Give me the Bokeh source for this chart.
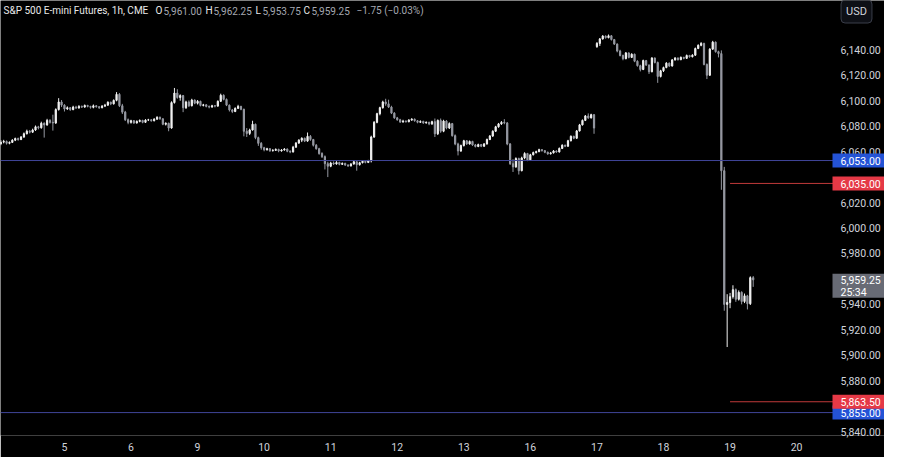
from bokeh.plotting import figure
from bokeh.models import Range1d, FixedTicker, Span, Label, ColumnDataSource, NumeralTickFormatter
from bokeh.core.properties import value
from bokeh.embed import file_html
from bokeh.resources import INLINE

# ---------------- data ----------------
session_days = ["4", "5", "6", "9", "10", "11", "12", "13", "16", "17", "18", "19", "20"]
first_session_bars = 22      # bars of Dec 4 visible
bars_per_session = 23        # hourly bars per CME session

opens = [
    # Dec 4
    6066.0, 6067.5, 6068.0, 6066.5, 6067.25, 6069.0, 6070.25, 6069.5, 6071.5, 6074.0, 6076.0, 6075.25, 6077.0, 6079.5, 6078.75, 6082.25, 6081.0, 6084.5, 6083.0, 6082.5, 6093.0, 6099.0,
    # Dec 5
    6096.5, 6093.5, 6094.5, 6093.0, 6095.0, 6094.25, 6095.5, 6095.0, 6096.25, 6095.5, 6094.75, 6096.0, 6095.25, 6094.5, 6095.75, 6096.5, 6098.75, 6097.5, 6100.25, 6105.0, 6096.0, 6091.0, 6085.0,
    # Dec 6
    6083.0, 6084.25, 6082.5, 6083.75, 6084.5, 6083.0, 6084.75, 6085.0, 6084.25, 6085.5, 6087.0, 6085.75, 6081.5, 6082.25, 6078.5, 6098.5, 6106.0, 6102.5, 6104.0, 6094.5, 6099.0, 6096.0, 6100.5,
    # Dec 9
    6098.0, 6099.5, 6096.25, 6096.75, 6095.5, 6095.0, 6096.0, 6095.75, 6099.5, 6104.25, 6101.0, 6096.5, 6092.75, 6091.5, 6094.0, 6095.5, 6093.25, 6076.0, 6074.25, 6077.0, 6081.5, 6071.0, 6066.5,
    # Dec 10
    6063.0, 6061.5, 6062.25, 6060.75, 6061.0, 6061.75, 6060.5, 6061.25, 6062.0, 6060.25, 6059.75, 6063.5, 6066.75, 6069.0, 6070.5, 6068.25, 6072.0, 6069.5, 6065.0, 6062.25, 6058.5, 6056.0, 6050.5,
    # Dec 11
    6048.5, 6051.0, 6050.25, 6051.5, 6050.0, 6050.75, 6049.5, 6048.75, 6050.25, 6052.0, 6049.75, 6051.25, 6052.5, 6051.5, 6052.75, 6071.5, 6083.0, 6089.75, 6094.5, 6099.0, 6097.5, 6095.0, 6090.25,
    # Dec 12
    6086.5, 6085.0, 6083.25, 6084.0, 6083.5, 6084.75, 6085.5, 6084.25, 6083.0, 6083.75, 6082.5, 6083.0, 6081.75, 6083.5, 6074.0, 6084.5, 6076.0, 6084.0, 6078.5, 6082.0, 6072.5, 6066.0, 6060.5,
    # Dec 13
    6064.75, 6068.5, 6066.0, 6068.0, 6065.25, 6064.0, 6065.5, 6064.25, 6066.0, 6069.5, 6072.25, 6076.0, 6079.5, 6081.75, 6083.0, 6082.5, 6066.0, 6050.5, 6048.0, 6054.5, 6045.0, 6055.0, 6058.5,
    # Dec 16
    6053.5, 6057.5, 6059.25, 6060.0, 6061.5, 6060.75, 6059.5, 6058.25, 6059.0, 6060.5, 6059.75, 6062.5, 6065.0, 6064.25, 6068.5, 6072.0, 6070.5, 6076.25, 6081.0, 6084.5, 6088.0, 6086.5, 6089.0,
    # Dec 17
    6142.5, 6145.0, 6148.5, 6150.75, 6149.5, 6151.0, 6148.0, 6144.5, 6139.0, 6135.5, 6133.0, 6137.5, 6134.0, 6136.5, 6131.0, 6127.5, 6124.5, 6131.5, 6128.0, 6122.75, 6133.5, 6130.0, 6119.0,
    # Dec 18
    6123.5, 6126.0, 6129.5, 6127.25, 6132.0, 6133.5, 6132.25, 6134.0, 6133.25, 6135.5, 6134.5, 6135.75, 6141.0, 6143.5, 6145.0, 6128.5, 6120.0, 6140.5, 6146.0, 6138.5, 6137.0, 6045.0, 5940.0,
    # Dec 19
    5941.5, 5946.0, 5951.5, 5944.0, 5949.5, 5942.25, 5946.75, 5940.5, 5961.0,
]
highs = [
    6069.0, 6069.25, 6068.75, 6068.0, 6069.75, 6071.0, 6071.0, 6072.25, 6075.0, 6077.25, 6077.0, 6078.0, 6080.5, 6080.25, 6083.5, 6083.0, 6085.75, 6085.5, 6089.0, 6094.0, 6102.0, 6100.5,
    6097.25, 6095.5, 6095.0, 6096.0, 6096.0, 6096.5, 6096.25, 6097.0, 6096.75, 6096.0, 6097.0, 6096.5, 6095.75, 6096.5, 6097.5, 6099.5, 6099.25, 6101.0, 6106.75, 6106.0, 6097.5, 6092.0, 6086.0,
    6085.0, 6084.75, 6084.5, 6085.25, 6085.0, 6085.5, 6085.75, 6085.5, 6086.25, 6087.75, 6087.5, 6086.25, 6083.0, 6082.75, 6099.5, 6110.0, 6109.0, 6105.0, 6104.5, 6100.0, 6100.25, 6101.5, 6101.0,
    6100.5, 6100.0, 6097.5, 6097.25, 6096.25, 6096.75, 6096.5, 6100.25, 6105.5, 6105.0, 6101.75, 6097.0, 6093.5, 6094.75, 6096.75, 6096.0, 6093.75, 6078.5, 6078.0, 6084.25, 6082.0, 6071.75, 6067.5,
    6063.75, 6063.0, 6062.75, 6062.0, 6062.5, 6062.25, 6062.0, 6062.75, 6062.5, 6061.0, 6064.5, 6067.5, 6069.75, 6071.25, 6071.0, 6075.0, 6073.0, 6070.0, 6066.0, 6063.0, 6059.5, 6057.0, 6052.0,
    6052.0, 6052.25, 6052.5, 6052.0, 6051.5, 6051.25, 6050.0, 6051.0, 6053.0, 6052.5, 6052.0, 6053.25, 6053.0, 6053.5, 6072.5, 6084.0, 6090.5, 6095.25, 6100.0, 6101.5, 6100.75, 6096.0, 6091.0,
    6087.25, 6085.75, 6085.0, 6084.5, 6085.5, 6086.25, 6086.0, 6084.75, 6084.5, 6084.25, 6083.75, 6083.5, 6084.25, 6086.0, 6085.25, 6086.0, 6085.0, 6084.75, 6083.0, 6082.5, 6073.5, 6067.0, 6065.5,
    6069.25, 6069.0, 6068.75, 6068.5, 6066.0, 6066.25, 6066.0, 6066.75, 6070.25, 6073.0, 6076.75, 6080.25, 6082.5, 6084.0, 6085.5, 6083.25, 6066.75, 6054.0, 6055.5, 6055.25, 6056.0, 6059.5, 6059.0,
    6058.25, 6060.0, 6060.75, 6062.25, 6062.0, 6061.25, 6060.0, 6059.75, 6061.25, 6061.0, 6063.25, 6065.75, 6065.5, 6069.25, 6072.75, 6072.5, 6077.0, 6081.75, 6085.25, 6088.75, 6090.0, 6089.75, 6089.5,
    6146.0, 6149.25, 6151.5, 6151.25, 6152.0, 6151.5, 6148.5, 6145.0, 6140.0, 6136.25, 6138.25, 6138.0, 6137.25, 6137.0, 6131.75, 6128.25, 6132.25, 6132.0, 6128.5, 6134.25, 6134.0, 6130.75, 6124.25,
    6126.75, 6130.25, 6130.0, 6132.75, 6134.25, 6134.0, 6134.75, 6134.5, 6136.25, 6136.0, 6136.5, 6141.75, 6144.25, 6146.0, 6145.5, 6129.25, 6141.25, 6147.0, 6146.5, 6139.25, 6139.5, 6048.0, 5948.0,
    5949.0, 5955.0, 5952.5, 5951.0, 5950.25, 5948.5, 5947.5, 5962.0, 5962.25,
]
lows = [
    6065.0, 6066.5, 6065.5, 6065.75, 6066.75, 6068.25, 6068.5, 6069.0, 6070.75, 6073.5, 6074.25, 6074.75, 6076.25, 6077.5, 6078.0, 6071.0, 6080.25, 6082.0, 6076.5, 6081.75, 6092.25, 6095.0,
    6091.5, 6092.75, 6092.0, 6092.5, 6093.5, 6093.75, 6094.25, 6094.5, 6094.75, 6093.75, 6094.0, 6094.5, 6093.5, 6094.0, 6095.0, 6096.0, 6096.5, 6097.0, 6099.5, 6095.0, 6089.5, 6084.0, 6081.5,
    6082.0, 6081.75, 6082.0, 6083.0, 6082.25, 6082.5, 6084.0, 6083.5, 6083.75, 6085.0, 6085.0, 6080.75, 6080.5, 6076.0, 6078.0, 6097.75, 6101.5, 6100.0, 6091.0, 6093.5, 6095.0, 6095.5, 6097.25,
    6097.0, 6095.5, 6095.5, 6094.75, 6094.0, 6094.5, 6094.75, 6095.25, 6099.0, 6100.25, 6095.75, 6091.5, 6090.25, 6091.0, 6093.5, 6092.5, 6072.0, 6071.5, 6073.0, 6076.5, 6069.75, 6064.5, 6061.5,
    6060.25, 6060.75, 6059.75, 6060.0, 6060.5, 6059.5, 6060.0, 6060.75, 6059.5, 6058.75, 6059.25, 6063.0, 6066.0, 6067.5, 6067.5, 6067.75, 6068.5, 6064.0, 6061.5, 6057.5, 6055.0, 6046.0, 6040.0,
    6047.75, 6049.5, 6049.75, 6049.25, 6049.5, 6048.75, 6048.0, 6048.25, 6049.75, 6045.0, 6049.0, 6050.75, 6050.75, 6051.0, 6051.5, 6070.75, 6082.25, 6088.5, 6093.75, 6096.0, 6094.25, 6089.5, 6085.75,
    6084.25, 6082.5, 6082.75, 6082.75, 6083.0, 6084.25, 6083.5, 6082.25, 6082.5, 6081.75, 6082.0, 6080.75, 6081.0, 6071.5, 6073.0, 6074.75, 6075.25, 6077.5, 6077.75, 6071.75, 6065.0, 6057.0, 6059.75,
    6064.0, 6065.25, 6065.5, 6064.5, 6063.25, 6063.5, 6063.5, 6063.75, 6065.5, 6069.0, 6071.5, 6075.5, 6078.75, 6081.0, 6081.5, 6065.0, 6049.5, 6044.0, 6047.25, 6042.0, 6044.5, 6054.0, 6052.5,
    6053.0, 6057.0, 6058.5, 6059.5, 6060.0, 6058.75, 6057.5, 6057.75, 6058.5, 6059.0, 6059.25, 6062.0, 6063.5, 6063.75, 6068.0, 6069.75, 6070.0, 6075.75, 6080.5, 6084.0, 6085.75, 6086.0, 6074.0,
    6141.5, 6143.0, 6148.0, 6148.75, 6149.0, 6147.25, 6143.75, 6138.0, 6134.75, 6131.75, 6132.5, 6133.25, 6133.5, 6130.25, 6126.75, 6123.0, 6124.0, 6127.25, 6121.0, 6122.25, 6129.25, 6114.0, 6118.25,
    6122.5, 6125.5, 6126.5, 6126.75, 6131.5, 6131.5, 6131.75, 6132.5, 6132.75, 6133.75, 6134.0, 6135.25, 6140.5, 6142.75, 6127.75, 6117.0, 6119.5, 6140.0, 6137.75, 6134.0, 6030.0, 5935.0, 5906.5,
    5937.0, 5944.5, 5942.0, 5943.0, 5940.0, 5941.0, 5936.0, 5939.5, 5953.75,
]
closes = [
    6067.5, 6068.0, 6066.5, 6067.25, 6069.0, 6070.25, 6069.5, 6071.5, 6074.0, 6076.0, 6075.25, 6077.0, 6079.5, 6078.75, 6082.25, 6081.0, 6084.5, 6083.0, 6082.5, 6093.0, 6099.0, 6096.5,
    6093.5, 6094.5, 6093.0, 6095.0, 6094.25, 6095.5, 6095.0, 6096.25, 6095.5, 6094.75, 6096.0, 6095.25, 6094.5, 6095.75, 6096.5, 6098.75, 6097.5, 6100.25, 6105.0, 6096.0, 6091.0, 6085.0, 6083.0,
    6084.25, 6082.5, 6083.75, 6084.5, 6083.0, 6084.75, 6085.0, 6084.25, 6085.5, 6087.0, 6085.75, 6081.5, 6082.25, 6078.5, 6098.5, 6106.0, 6102.5, 6104.0, 6094.5, 6099.0, 6096.0, 6100.5, 6098.0,
    6099.5, 6096.25, 6096.75, 6095.5, 6095.0, 6096.0, 6095.75, 6099.5, 6104.25, 6101.0, 6096.5, 6092.75, 6091.5, 6094.0, 6095.5, 6093.25, 6076.0, 6074.25, 6077.0, 6081.5, 6071.0, 6066.5, 6063.0,
    6061.5, 6062.25, 6060.75, 6061.0, 6061.75, 6060.5, 6061.25, 6062.0, 6060.25, 6059.75, 6063.5, 6066.75, 6069.0, 6070.5, 6068.25, 6072.0, 6069.5, 6065.0, 6062.25, 6058.5, 6056.0, 6050.5, 6048.5,
    6051.0, 6050.25, 6051.5, 6050.0, 6050.75, 6049.5, 6048.75, 6050.25, 6052.0, 6049.75, 6051.25, 6052.5, 6051.5, 6052.75, 6071.5, 6083.0, 6089.75, 6094.5, 6099.0, 6097.5, 6095.0, 6090.25, 6086.5,
    6085.0, 6083.25, 6084.0, 6083.5, 6084.75, 6085.5, 6084.25, 6083.0, 6083.75, 6082.5, 6083.0, 6081.75, 6083.5, 6074.0, 6084.5, 6076.0, 6084.0, 6078.5, 6082.0, 6072.5, 6066.0, 6060.5, 6064.75,
    6068.5, 6066.0, 6068.0, 6065.25, 6064.0, 6065.5, 6064.25, 6066.0, 6069.5, 6072.25, 6076.0, 6079.5, 6081.75, 6083.0, 6082.5, 6066.0, 6050.5, 6048.0, 6054.5, 6045.0, 6055.0, 6058.5, 6053.5,
    6057.5, 6059.25, 6060.0, 6061.5, 6060.75, 6059.5, 6058.25, 6059.0, 6060.5, 6059.75, 6062.5, 6065.0, 6064.25, 6068.5, 6072.0, 6070.5, 6076.25, 6081.0, 6084.5, 6088.0, 6086.5, 6089.0, 6078.5,
    6145.0, 6148.5, 6150.75, 6149.5, 6151.0, 6148.0, 6144.5, 6139.0, 6135.5, 6133.0, 6137.5, 6134.0, 6136.5, 6131.0, 6127.5, 6124.5, 6131.5, 6128.0, 6122.75, 6133.5, 6130.0, 6119.0, 6123.5,
    6126.0, 6129.5, 6127.25, 6132.0, 6133.5, 6132.25, 6134.0, 6133.25, 6135.5, 6134.5, 6135.75, 6141.0, 6143.5, 6145.0, 6128.5, 6120.0, 6140.5, 6146.0, 6138.5, 6137.0, 6045.0, 5940.0, 5941.5,
    5946.0, 5951.5, 5944.0, 5949.5, 5942.25, 5946.75, 5940.5, 5961.0, 5959.25,
]

blue_levels = [6053.0, 5855.0]
red_levels = [6035.0, 5863.5]
red_levels_from_day = "19"
price_ticks = [5840, 5880, 5900, 5920, 5940, 5980, 6000, 6020, 6060, 6080, 6100, 6120, 6140]
countdown = "25:34"
title = "S&P 500 E-mini Futures, 1h, CME"
currency = "USD"

# ---------------- layout ----------------
FONT = "Roboto"
W, H = 884, 457
AXW, AXH = 52, 22          # width of price scale, height of time scale
PLOT_W = W - AXW           # width of the candle area
FRAME_H = H - AXH
X0, X1 = -0.1, 287.4       # bar range of the candle area
Y0, Y1 = 5837.0, 6178.7
PX_X = PLOT_W / (X1 - X0)  # px per bar
PX_Y = FRAME_H / (Y1 - Y0) # px per point
XR = X0 + W / PX_X         # frame extends under the price scale

session_start = {d: (0 if k == 0 else first_session_bars + (k - 1) * bars_per_session)
                 for k, d in enumerate(session_days)}
tick_days = session_days[1:]
tick_pos = [session_start[d] for d in tick_days]

UP = "#f0f0f0"
DOWN = "#9598a1"
xs = list(range(len(closes)))
src = ColumnDataSource(dict(
    x=xs, o=opens, h=highs, l=lows, c=closes,
    top=[max(o, c) for o, c in zip(opens, closes)],
    bottom=[min(o, c) for o, c in zip(opens, closes)],
    color=[UP if c >= o else DOWN for o, c in zip(opens, closes)],
))

p = figure(width=W, height=H, output_backend="svg", toolbar_location=None,
           x_range=Range1d(X0, XR), y_range=Range1d(Y0, Y1),
           y_axis_location="right",
           background_fill_color="#000000", border_fill_color="#000000",
           outline_line_color=None,
           min_border_left=0, min_border_top=0,
           min_border_right=0, min_border_bottom=AXH)
p.grid.visible = False

# axes
yax = p.yaxis[0]
yax.ticker = FixedTicker(ticks=price_ticks)
yax.formatter = NumeralTickFormatter(format="0,0.00")
xax = p.xaxis[0]
xax.ticker = FixedTicker(ticks=tick_pos)
xax.major_label_overrides = {t: d for t, d in zip(tick_pos, tick_days)}
for ax in (xax, yax):
    ax.axis_line_color = None
    ax.major_tick_line_color = None
    ax.minor_tick_line_color = None
    ax.major_tick_out = 0
    ax.major_tick_in = 0
    ax.major_label_text_color = "#d1d4dc"
    ax.major_label_text_font = FONT
    ax.major_label_text_font_size = "10.5px"
yax.major_label_standoff = -(AXW - 8)   # labels sit inside the price-scale strip
xax.major_label_standoff = 7

# level lines
for lv in blue_levels:
    p.add_layout(Span(location=lv, dimension="width", line_color="#3f4598", line_width=1))
rs = session_start[red_levels_from_day]
p.segment(x0=[rs] * len(red_levels), x1=[XR] * len(red_levels),
          y0=red_levels, y1=red_levels, line_color="#c03a3a", line_width=1)

# candles
p.segment(x0="x", y0="l", x1="x", y1="h", line_color="color", line_width=1, source=src)
p.vbar(x="x", width=0.42, top="top", bottom="bottom", fill_color="color",
       line_color="color", line_width=1, source=src)

# price boxes on the price scale
text_x = X1 + 8 / PX_X
def price_box(price, lines, bg, up_px=7, down_px=7):
    p.quad(left=[X1], right=[XR], top=[price + up_px / PX_Y], bottom=[price - down_px / PX_Y],
           fill_color=bg, line_color=None, level="overlay")
    for k, t in enumerate(lines):
        p.text(x=[text_x], y=[price - (0.5 + 12 * k) / PX_Y], text=[t],
               text_align="left", text_baseline="middle", text_color="#ffffff",
               text_font=value(FONT), text_font_size="10.5px", level="overlay")

for lv in blue_levels:
    price_box(lv, [f"{lv:,.2f}"], "#2453d6")
for lv in red_levels:
    price_box(lv, [f"{lv:,.2f}"], "#e53946")
price_box(closes[-1], [f"{closes[-1]:,.2f}", countdown], "#686b75", up_px=6, down_px=18)

# currency button
p.add_layout(Label(x=W - AXW / 2 - 2, y=FRAME_H - 11, x_units="screen", y_units="screen",
                   text=currency, text_align="center", text_baseline="middle",
                   text_color="#d1d4dc", text_font=FONT, text_font_size="11px",
                   background_fill_color="#0e1016", border_line_color="#3a3e4a",
                   border_radius=4, padding=5))

# header legend
o_, h_, l_, c_ = opens[-1], highs[-1], lows[-1], closes[-1]
chg = c_ - closes[-2]
pct = chg / closes[-2] * 100
header = [
    (title, "#e8e8e8", 3),
    ("O", "#e8e8e8", 155), (f"{o_:,.2f}", "#a5a8b1", 163),
    ("H", "#e8e8e8", 205), (f"{h_:,.2f}", "#a5a8b1", 213),
    ("L", "#e8e8e8", 255), (f"{l_:,.2f}", "#a5a8b1", 262),
    ("C", "#e8e8e8", 303), (f"{c_:,.2f}", "#a5a8b1", 311),
    (f"{chg:+,.2f} ({pct:+.2f}%)".replace("-", "\u2212"), "#a5a8b1", 356),
]
for txt, col, xpos in header:
    p.add_layout(Label(x=xpos, y=FRAME_H - 10, x_units="screen", y_units="screen",
                       text=txt, text_align="left", text_baseline="middle",
                       text_color=col, text_font=FONT, text_font_size="10px"))

open("out.html", "w").write(file_html(p, INLINE))
